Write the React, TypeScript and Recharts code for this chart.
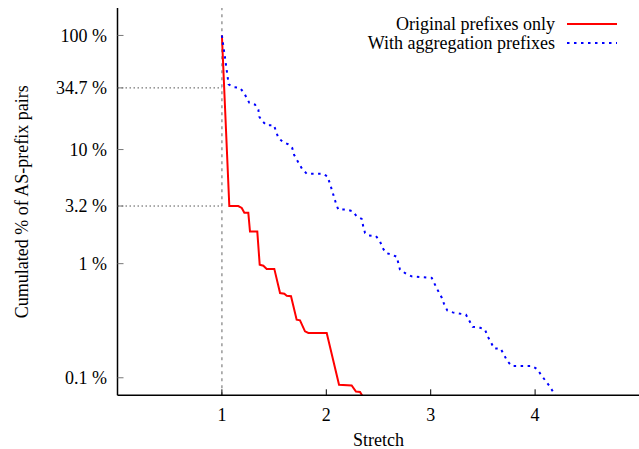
import React from "react";
import { LineChart, Line, XAxis, YAxis, ReferenceLine, Legend, Label } from "recharts";

// axis ticks
const stretchTicks = [1, 2, 3, 4];
const pctTicks = [0.1, 1, 3.2, 10, 34.7, 100];
const markerPct = [34.7, 3.2];

// "Original prefixes only"
const origStretch = [
  1.0, 1.071, 1.157, 1.19, 1.215, 1.253, 1.269, 1.339, 1.362, 1.397, 1.429, 1.502, 1.557,
  1.598, 1.621, 1.662, 1.716, 1.748, 1.796, 1.828, 2.004, 2.122, 2.243, 2.284, 2.323, 2.36,
];
const origPct = [
  100, 3.2, 3.2, 3.08, 2.79, 2.79, 1.91, 1.91, 0.98, 0.96, 0.9, 0.9, 0.553, 0.545, 0.524,
  0.518, 0.323, 0.319, 0.255, 0.247, 0.247, 0.0868, 0.0857, 0.0758, 0.0751, 0.066,
];

// "With aggregation prefixes"
const aggrStretch = [
  1.0, 1.065, 1.109, 1.173, 1.212, 1.262, 1.317, 1.349, 1.358, 1.387, 1.429, 1.499, 1.518,
  1.54, 1.582, 1.636, 1.674, 1.691, 1.716, 1.767, 1.812, 1.966, 2.01, 2.035, 2.067, 2.093,
  2.115, 2.195, 2.253, 2.291, 2.339, 2.354, 2.371, 2.402, 2.476, 2.514, 2.54, 2.572, 2.626,
  2.674, 2.706, 2.763, 2.818, 3.01, 3.041, 3.073, 3.105, 3.127, 3.159, 3.211, 3.338, 3.37,
  3.402, 3.466, 3.52, 3.546, 3.578, 3.606, 3.67, 3.702, 3.734, 3.776, 3.967, 4.021, 4.057,
  4.098, 4.136, 4.174, 4.21,
];
const aggrPct = [
  100, 37.2, 35.3, 34.7, 31.4, 25.7, 24.8, 22.4, 19.4, 17.7, 16.3, 16.3, 14.5, 12.7, 11.7,
  11.1, 10.3, 9.0, 8.2, 6.8, 6.15, 6.15, 5.83, 5.03, 4.03, 3.36, 2.98, 2.98, 2.88, 2.6, 2.47,
  2.12, 1.86, 1.77, 1.74, 1.57, 1.37, 1.24, 1.2, 1.15, 0.886, 0.817, 0.774, 0.75, 0.655,
  0.572, 0.506, 0.446, 0.389, 0.374, 0.357, 0.316, 0.279, 0.276, 0.264, 0.23, 0.204, 0.181,
  0.18, 0.159, 0.14, 0.127, 0.127, 0.119, 0.106, 0.0946, 0.0851, 0.0748, 0.065,
];

const seriesNames = ["Original prefixes only", "With aggregation prefixes"];
const seriesColors = ["#ff0000", "#0000ff"];
const seriesDash = ["", "2.5 4.5"];

const toPoints = (xs: number[], ys: number[]) => xs.map((x, i) => ({ x, y: ys[i] }));
const origData = toPoints(origStretch, origPct);
const aggrData = toPoints(aggrStretch, aggrPct);

const FONT = "'Liberation Serif', 'DejaVu Serif', serif";
const textStyle = { fontFamily: FONT, fontSize: 18 };
const X_DOMAIN: [number, number] = [0, 5];
const Y_DOMAIN: [number, number] = [0.0702, 174];

const LegendBox = () => (
  <svg width={639} height={60} style={{ display: "block" }}>
    {seriesNames.map((name, i) => {
      const cy = 24 + i * 19;
      return (
        <g key={name}>
          <text
            x={555}
            y={cy}
            textAnchor="end"
            dominantBaseline="central"
            style={textStyle}
            fill="#000"
          >
            {name}
          </text>
          <line
            x1={567}
            x2={617}
            y1={cy}
            y2={cy}
            stroke={seriesColors[i]}
            strokeWidth={2}
            strokeDasharray={seriesDash[i] || undefined}
          />
        </g>
      );
    })}
  </svg>
);

const tickStyle = { fill: "#000", fontSize: 18, fontFamily: FONT };
const noLabel = () => "";

export default function App() {
  return (
    <div
      style={{
        position: "absolute",
        left: 0,
        top: 0,
        width: 639,
        height: 449,
        overflow: "hidden",
        background: "#fff",
      }}
    >
      <LineChart
        width={660}
        height={449}
        margin={{ top: 8, right: 20.5, left: 7.5, bottom: 23.7 }}
      >
        <XAxis
          type="number"
          dataKey="x"
          domain={X_DOMAIN}
          allowDataOverflow
          ticks={stretchTicks}
          height={30}
          tickSize={-6}
          tickMargin={19}
          tick={tickStyle}
          tickLine={{ stroke: "#000" }}
          axisLine={{ stroke: "#000", strokeWidth: 1.5 }}
        >
          <Label
            value="Stretch"
            position="bottom"
            offset={8}
            fill="#000"
            fontSize={18}
            fontFamily={FONT}
          />
        </XAxis>
        <XAxis
          xAxisId="t"
          orientation="top"
          type="number"
          dataKey="x"
          domain={X_DOMAIN}
          allowDataOverflow
          ticks={stretchTicks}
          height={0}
          tickSize={-6}
          tick={tickStyle}
          tickFormatter={noLabel}
          tickLine={{ stroke: "#000" }}
          axisLine={{ stroke: "#222", strokeWidth: 1.5 }}
        />
        <YAxis
          scale="log"
          domain={Y_DOMAIN}
          allowDataOverflow
          ticks={pctTicks}
          width={110}
          tickSize={-6}
          tickMargin={16.5}
          tick={tickStyle}
          tickFormatter={(v: number) => `${v} %`}
          tickLine={{ stroke: "#777" }}
          axisLine={{ stroke: "#000", strokeWidth: 1.5 }}
        >
          <Label
            value="Cumulated % of AS-prefix pairs"
            position="center"
            angle={-90}
            dx={-40.5}
            fill="#000"
            fontSize={18}
            fontFamily={FONT}
          />
        </YAxis>
        <YAxis
          yAxisId="r"
          orientation="right"
          scale="log"
          domain={Y_DOMAIN}
          allowDataOverflow
          ticks={pctTicks}
          width={0}
          tickSize={-6}
          tick={tickStyle}
          tickFormatter={noLabel}
          tickLine={{ stroke: "#777" }}
          axisLine={{ stroke: "#000", strokeWidth: 1.5 }}
        />
        <ReferenceLine x={1} stroke="#999" strokeWidth={1.5} strokeDasharray="3 4" />
        {markerPct.map((p) => (
          <ReferenceLine
            key={p}
            segment={[
              { x: X_DOMAIN[0], y: p },
              { x: 1, y: p },
            ]}
            stroke="#555"
            strokeWidth={1}
            strokeDasharray="1.5 2.5"
          />
        ))}
        <Legend
          layout="horizontal"
          verticalAlign="middle"
          align="center"
          content={() => <LegendBox />}
          wrapperStyle={{ position: "absolute", top: 0, left: 0, width: 639, height: 60 }}
        />
        <Line
          data={origData}
          dataKey="y"
          name={seriesNames[0]}
          type="linear"
          stroke={seriesColors[0]}
          strokeWidth={2}
          dot={false}
          isAnimationActive={false}
        />
        <Line
          data={aggrData}
          dataKey="y"
          name={seriesNames[1]}
          type="linear"
          stroke={seriesColors[1]}
          strokeWidth={2}
          strokeDasharray={seriesDash[1]}
          dot={false}
          isAnimationActive={false}
        />
      </LineChart>
    </div>
  );
}
